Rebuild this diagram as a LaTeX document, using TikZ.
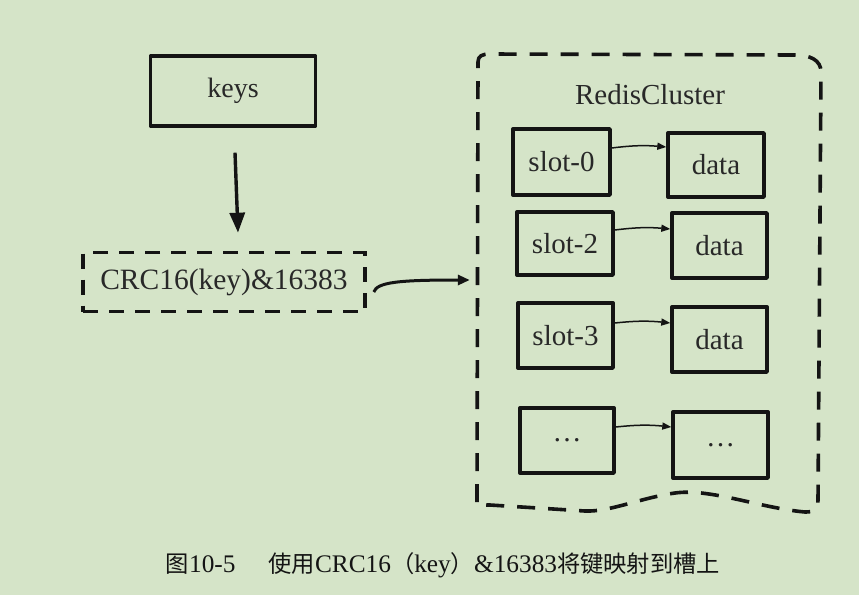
\documentclass[tikz,border=0pt]{standalone}
\usepackage{fontspec}
\usetikzlibrary{arrows.meta}
\newfontfamily\cjk{Noto Sans CJK SC}
\newfontfamily\capfont{Liberation Serif}
\newfontfamily\boxfont{Liberation Serif}
\definecolor{bg}{RGB}{213,228,200}
\definecolor{ink}{RGB}{20,20,20}
\definecolor{txt}{RGB}{40,40,40}
\tikzset{
  sketchbox/.style={draw=ink, line width=3.4pt, line join=round, minimum width=#1, inner sep=0pt, text=txt},
  sketchbox/.default=96pt,
  dashbox/.style={draw=ink, line width=3.6pt, dash pattern=on 15pt off 11pt, inner sep=0pt, text=txt},
  bigarrow/.style={draw=ink, line width=3.4pt, -{Triangle[length=20pt,width=15pt]}},
  midarrow/.style={draw=ink, line width=3pt, -{Triangle[length=12pt,width=10pt]}},
  smallarrow/.style={draw=ink, line width=1.5pt, -{Triangle[length=9pt,width=7pt]}},
  lbl/.style={font=\boxfont\fontsize{29}{34}\selectfont},
  lblk/.style={font=\boxfont\fontsize{28}{33}\selectfont},
  lblc/.style={font=\boxfont\fontsize{29.5}{34}\selectfont}
}
\begin{document}
\begin{tikzpicture}[x=1pt,y=-1pt]
\useasboundingbox[fill=bg] (0,0) rectangle (859,595);

% left part
\node[sketchbox=165pt, minimum height=70pt, lblk] (keys) at (233,91) {keys};
\node[dashbox, minimum width=282pt, minimum height=59pt, lblc] (crc) at (224,282) {CRC16(key)\&16383};

% cluster container
\node[minimum width=347pt, minimum height=459pt, inner sep=0pt] (cl) at (648.5,282.5) {};
\draw[ink, line width=3.6pt, dash pattern=on 18pt off 13pt, line join=round]
  (477,502) -- (478,62) .. controls (478,56) and (482,54) .. (490,54)
  -- (795,55) .. controls (810,55) and (821,60) .. (821,72)
  -- (818,500) .. controls (818,510) and (814,512) .. (805,512)
  .. controls (760,508) and (710,488) .. (675,493)
  .. controls (640,498) and (610,512) .. (585,511)
  -- (490,505) .. controls (482,505) and (477,505) .. cycle;
\node[lbl, text=txt] (title) at (650,95) {RedisCluster};

% slots and data
\node[sketchbox=97pt, minimum height=66pt, lbl] (s0) at (561.5,162) {slot-0};
\node[sketchbox=96pt, minimum height=64pt, lbl] (d0) at (716,165) {data};
\node[sketchbox=96pt, minimum height=63pt, lbl] (s2) at (565,243.5) {slot-2};
\node[sketchbox=95pt, minimum height=65pt, lbl] (d2) at (719.5,245.5) {data};
\node[sketchbox=95pt, minimum height=65pt, lbl] (s3) at (565.5,335.5) {slot-3};
\node[sketchbox=95pt, minimum height=65pt, lbl] (d3) at (719.5,339.5) {data};
\node[sketchbox=94pt, minimum height=65pt, lbl] (s4) at (567,440.5) {\dots};
\node[sketchbox=95pt, minimum height=66pt, lbl] (d4) at (720.5,445) {\dots};

% connectors
\draw[bigarrow] ([xshift=2pt,yshift=-25pt]keys.south) -- ([xshift=14pt,yshift=18pt]crc.north);
\draw[midarrow] ([xshift=7pt,yshift=-10pt]crc.east) .. controls (377,282) and (400,280) .. ([yshift=2.5pt,xshift=-5pt]cl.west);
\draw[smallarrow] ([yshift=14pt]s0.east) to[bend left=6] ([yshift=18pt]d0.west);
\draw[smallarrow] ([yshift=13.5pt]s2.east) to[bend left=6] ([yshift=16.5pt]d2.west);
\draw[smallarrow] ([yshift=12.5pt]s3.east) to[bend left=6] ([yshift=16.5pt]d3.west);
\draw[smallarrow] ([yshift=13.5pt]s4.east) to[bend left=6] ([yshift=18pt]d4.west);

% caption
\node[text=ink, inner sep=0pt] (cap) at (443,565)
  {\fontsize{23.3}{28}\selectfont{\cjk 图}{\capfont\fontsize{25.3}{28}\selectfont 10-5}\hspace{33pt}{\cjk 使用}{\capfont\fontsize{25.3}{28}\selectfont CRC16}{\cjk （}{\capfont\fontsize{25.3}{28}\selectfont key}{\cjk ）}{\capfont\fontsize{25.3}{28}\selectfont \&16383}{\cjk 将键映射到槽上}};
\end{tikzpicture}
\end{document}
